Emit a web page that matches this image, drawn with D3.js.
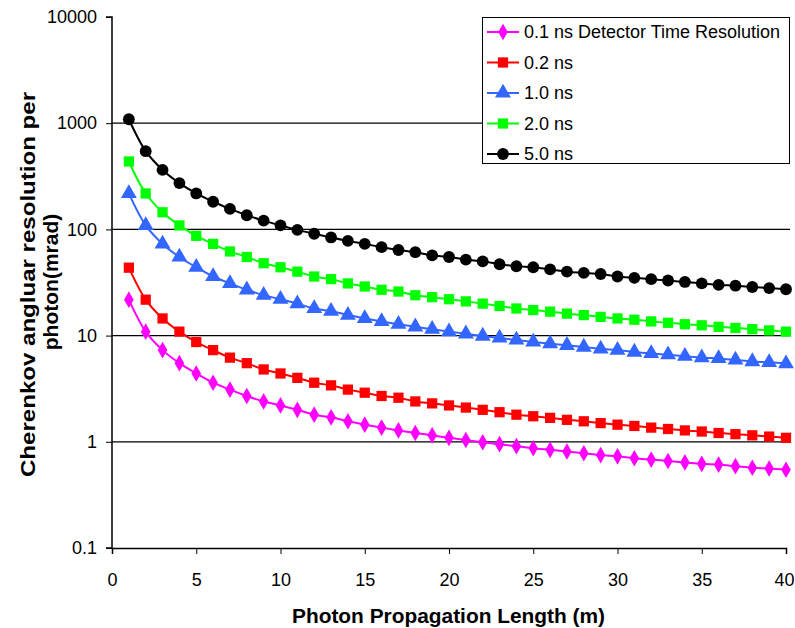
<!DOCTYPE html>
<html><head><meta charset="utf-8">
<script src="https://cdn.jsdelivr.net/npm/d3@7"></script>
<style>body{margin:0;background:#fff}svg{display:block}text{font-family:"Liberation Sans",Arial,sans-serif}</style>
</head><body>
<svg id="c" width="795" height="628"></svg>
<script>
const xValues = d3.range(1, 41);
const seriesNames = ["0.1 ns Detector Time Resolution", "0.2 ns", "1.0 ns", "2.0 ns", "5.0 ns"];
const s01 = [21.8,10.9,7.3,5.5,4.4,3.6,3.1,2.7,2.4,2.2,2.0,1.8,1.7,1.56,1.45,1.36,1.28,1.21,1.15,1.09,1.04,0.99,0.95,0.91,0.87,0.84,0.81,0.78,0.75,0.73,0.70,0.68,0.66,0.64,0.62,0.61,0.59,0.57,0.56,0.545];
const s02 = [43.6,21.8,14.5,10.9,8.7,7.3,6.2,5.5,4.8,4.4,4.0,3.6,3.4,3.1,2.9,2.7,2.6,2.4,2.3,2.2,2.1,2.0,1.9,1.8,1.74,1.68,1.61,1.56,1.50,1.45,1.41,1.36,1.32,1.28,1.25,1.21,1.18,1.15,1.12,1.09];
const s10 = [218,109,73,55,44,36,31,27,24,22,20,18,17,15.6,14.5,13.6,12.8,12.1,11.5,10.9,10.4,9.9,9.5,9.1,8.7,8.4,8.1,7.8,7.5,7.3,7.0,6.8,6.6,6.4,6.2,6.1,5.9,5.7,5.6,5.45];
const s20 = [436,218,145,109,87,73,62,55,48,44,40,36,34,31,29,27,26,24,23,22,21,20,19,18,17.4,16.8,16.1,15.6,15.0,14.5,14.1,13.6,13.2,12.8,12.5,12.1,11.8,11.5,11.2,10.9];
const s50 = [1090,545,363,273,218,182,156,136,121,109,99,91,84,78,73,68,64,61,57,55,52,50,47,45,44,42,40,39,38,36,35,34,33,32,31,30,29.5,28.7,28,27.3];
const xTicks = [0,5,10,15,20,25,30,35,40];
const yTicks = [0.1,1,10,100,1000,10000];
const yTickLabels = ["0.1","1","10","100","1000","10000"];

const colors = ["#ff00ff","#ff0000","#3366ff","#00ff00","#000000"];
const shapes = [d3.symbolDiamond, d3.symbolSquare, d3.symbolTriangle, d3.symbolSquare, d3.symbolCircle];
const sizes = [80, 105, 110, 105, 110];
const allSeries = [s01,s02,s10,s20,s50];

const svg = d3.select("#c");
const L=112, R=786, T=17, B=548;
const x = d3.scaleLinear().domain([0,40]).range([L,R]);
const y = d3.scaleLog().domain([0.1,10000]).range([B,T]);
const FF = "Liberation Sans, Arial, sans-serif";

// gridlines
svg.append("g").selectAll("line").data(yTicks.filter(v=>v>0.1 && v<10000)).join("line")
  .attr("x1",L).attr("x2",790).attr("y1",d=>y(d)).attr("y2",d=>y(d))
  .attr("stroke","#000").attr("stroke-width",1.3);

// axes
const yAxis = d3.axisLeft(y).tickValues(yTicks).tickFormat((d,i)=>yTickLabels[i]).tickSize(6).tickPadding(9);
const gy = svg.append("g").attr("transform",`translate(${L},0)`).call(yAxis).attr("font-size",18).attr("font-family",FF);
gy.select(".domain").attr("d",`M-6,${T}H0V${B}H-6`).attr("stroke","#000").attr("stroke-width",1.5);
gy.selectAll("text").attr("fill","#000");
const xAxis = d3.axisBottom(x).tickValues(xTicks).tickFormat(d3.format("d")).tickSize(6).tickPadding(19);
const gx = svg.append("g").attr("transform",`translate(0,${B})`).call(xAxis).attr("font-size",18).attr("font-family",FF);
gx.select(".domain").attr("stroke","#000").attr("stroke-width",1.5);
gx.selectAll("text").attr("fill","#000");
gx.selectAll(".tick").filter(d=>d===40).select("text").attr("text-anchor","end").attr("x",8);

// series
const line = d3.line().x((d,i)=>x(xValues[i])).y(d=>y(d)).curve(d3.curveCatmullRom);
allSeries.forEach((s,k)=>{
  svg.append("path").attr("d",line(s)).attr("fill","none").attr("stroke",colors[k]).attr("stroke-width",2);
  svg.append("g").selectAll("path").data(s).join("path")
    .attr("transform",(d,i)=>`translate(${x(xValues[i])},${y(d)})`)
    .attr("d",d3.symbol().type(shapes[k]).size(sizes[k])).attr("fill",colors[k]);
});

// legend
const lg = svg.append("g");
lg.append("rect").attr("x",482.5).attr("y",17.5).attr("width",307).attr("height",146).attr("fill","#fff").attr("stroke","#000").attr("stroke-width",1);
seriesNames.forEach((name,k)=>{
  const cy = 32 + k*30.5;
  lg.append("line").attr("x1",487).attr("x2",519).attr("y1",cy).attr("y2",cy).attr("stroke",colors[k]).attr("stroke-width",2);
  lg.append("path").attr("transform",`translate(503,${cy})`).attr("d",d3.symbol().type(shapes[k]).size(sizes[k])).attr("fill",colors[k]);
  lg.append("text").attr("x",524).attr("y",cy).attr("dy","0.36em").attr("font-size",18).attr("font-family",FF).text(name);
});

// titles
svg.append("text").attr("x",448.5).attr("y",623).attr("text-anchor","middle").attr("font-size",21).attr("font-weight","bold")
  .attr("textLength",313).attr("lengthAdjust","spacingAndGlyphs").text("Photon Propagation Length (m)");
svg.append("text").attr("transform",`translate(35,284.5) rotate(-90)`).attr("text-anchor","middle").attr("font-size",21).attr("font-weight","bold")
  .attr("textLength",385).attr("lengthAdjust","spacingAndGlyphs").text("Cherenkov angluar resolution per");
svg.append("text").attr("transform",`translate(58,282) rotate(-90)`).attr("text-anchor","middle").attr("font-size",21).attr("font-weight","bold")
  .text("photon(mrad)");
</script>
</body></html>
